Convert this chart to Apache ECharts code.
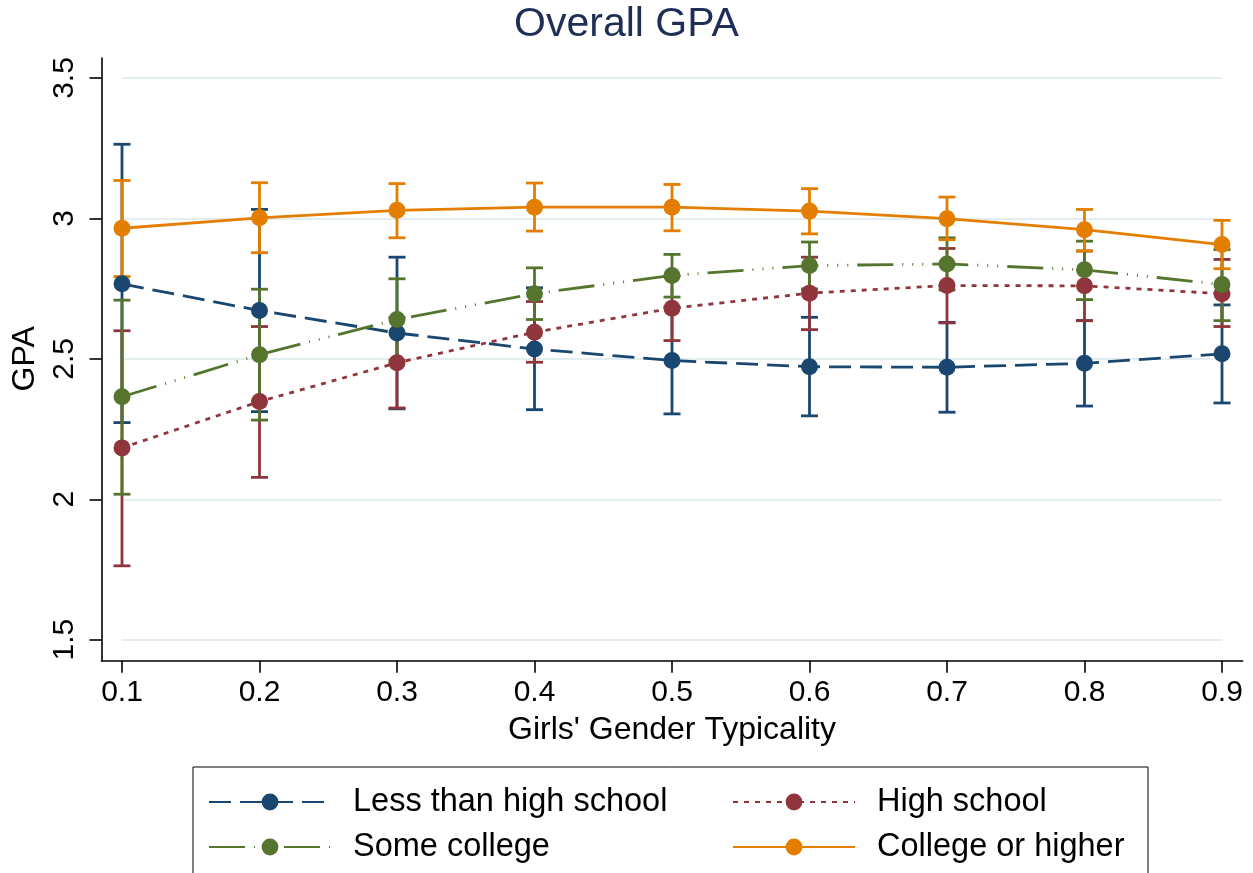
<!DOCTYPE html>
<html>
<head>
<meta charset="utf-8">
<title>Overall GPA</title>
<script src="https://cdn.jsdelivr.net/npm/echarts@6/dist/echarts.min.js"></script>
<style>
  html, body { margin: 0; padding: 0; background: #ffffff; }
  #chart { width: 1253px; height: 873px; }
</style>
</head>
<body>
<div id="chart"></div>
<script>
// Girls' gender typicality (x) and predicted GPA with 95% confidence limits by parental education
const typicality = [0.1, 0.2, 0.3, 0.4, 0.5, 0.6, 0.7, 0.8, 0.9];

const groupNames = ['Less than high school', 'High school', 'Some college', 'College or higher'];

const lessHsMean  = [2.767, 2.672, 2.592, 2.535, 2.494, 2.472, 2.470, 2.484, 2.518];
const lessHsLower = [2.273, 2.312, 2.322, 2.319, 2.304, 2.297, 2.310, 2.332, 2.343];
const lessHsUpper = [3.264, 3.032, 2.862, 2.753, 2.684, 2.648, 2.630, 2.636, 2.692];

const hsMean  = [2.183, 2.348, 2.486, 2.595, 2.680, 2.734, 2.761, 2.760, 2.732];
const hsLower = [1.763, 2.078, 2.325, 2.488, 2.565, 2.604, 2.628, 2.636, 2.615];
const hsUpper = [2.600, 2.615, 2.647, 2.704, 2.795, 2.862, 2.893, 2.884, 2.854];

const someColMean  = [2.365, 2.515, 2.640, 2.732, 2.797, 2.832, 2.838, 2.817, 2.765];
const someColLower = [2.018, 2.282, 2.495, 2.640, 2.720, 2.749, 2.745, 2.711, 2.636];
const someColUpper = [2.709, 2.748, 2.785, 2.824, 2.872, 2.916, 2.931, 2.919, 2.889];

const collegeMean  = [2.965, 3.002, 3.029, 3.040, 3.040, 3.026, 2.999, 2.960, 2.907];
const collegeLower = [2.793, 2.878, 2.931, 2.955, 2.956, 2.945, 2.924, 2.884, 2.821];
const collegeUpper = [3.135, 3.127, 3.124, 3.126, 3.121, 3.106, 3.076, 3.032, 2.993];

const yAxisMin = 1.5, yAxisMax = 3.5, yAxisStep = 0.5;
const xAxisMin = 0.1, xAxisMax = 0.9, xAxisStep = 0.1;

const groups = [
  { name: groupNames[0], mean: lessHsMean,  lower: lessHsLower,  upper: lessHsUpper,
    color: '#1a476f', dash: [22, 9] },
  { name: groupNames[1], mean: hsMean,      lower: hsLower,      upper: hsUpper,
    color: '#90353b', dash: [5, 6] },
  { name: groupNames[2], mean: someColMean, lower: someColLower, upper: someColUpper,
    color: '#55752f', dash: [36, 9, 1, 9, 1, 9, 1, 9] },
  { name: groupNames[3], mean: collegeMean, lower: collegeLower, upper: collegeUpper,
    color: '#e37e00', dash: 'solid' }
];

const FONT = '"Liberation Sans", Arial, Helvetica, sans-serif';
const LINE_W = 2.8;

// capped vertical interval: [x, lower, upper]
function renderCapBar(params, api) {
  const x = api.value(0);
  const lo = api.coord([x, api.value(1)]);
  const hi = api.coord([x, api.value(2)]);
  const half = 8.5;
  const style = { stroke: api.visual('color'), lineWidth: LINE_W, fill: null };
  return {
    type: 'group',
    children: [
      { type: 'line', shape: { x1: lo[0], y1: lo[1], x2: hi[0], y2: hi[1] }, style: style },
      { type: 'line', shape: { x1: lo[0] - half, y1: lo[1], x2: lo[0] + half, y2: lo[1] }, style: style },
      { type: 'line', shape: { x1: hi[0] - half, y1: hi[1], x2: hi[0] + half, y2: hi[1] }, style: style }
    ]
  };
}

const capSeries = groups.map(g => ({
  name: g.name + ' (95% CI)',
  type: 'custom',
  xAxisIndex: 0,
  yAxisIndex: 0,
  z: 2,
  itemStyle: { color: g.color },
  renderItem: renderCapBar,
  encode: { x: 0, y: [1, 2] },
  data: typicality.map((x, i) => [x, g.lower[i], g.upper[i]])
}));

const lineSeries = groups.map(g => ({
  name: g.name,
  type: 'line',
  xAxisIndex: 0,
  yAxisIndex: 0,
  z: 3,
  symbol: 'circle',
  symbolSize: 17,
  showAllSymbol: true,
  itemStyle: { color: g.color },
  lineStyle: { color: g.color, width: LINE_W, type: g.dash },
  emphasis: { disabled: true },
  data: typicality.map((x, i) => [x, g.mean[i]])
}));

const axisInk = { color: '#000000', width: 1.6 };
const colWidths = [367, 256, 367, 256];

const option = {
  animation: false,
  backgroundColor: '#ffffff',
  title: {
    text: 'Overall GPA',
    left: 'center',
    top: 4,
    padding: 0,
    textStyle: { fontFamily: FONT, fontSize: 41, fontWeight: 'normal', color: '#1e2e57' }
  },
  grid: [
    // plotting region (ticks at its edges)
    { left: 122, right: 31, top: 78, bottom: 233.3 },
    // outer frame carrying the axis lines
    { left: 101.5, right: 10.3, top: 58, bottom: 212.3 }
  ],
  xAxis: [
    {
      type: 'value', gridIndex: 0,
      min: xAxisMin, max: xAxisMax, interval: xAxisStep,
      offset: 21,
      name: "Girls' Gender Typicality",
      nameLocation: 'middle',
      nameGap: 53,
      nameTextStyle: { fontFamily: FONT, fontSize: 32, color: '#000000' },
      axisLine: { show: false },
      axisTick: { show: true, length: 12, lineStyle: axisInk },
      axisLabel: {
        margin: 17, fontFamily: FONT, fontSize: 30, color: '#000000',
        formatter: v => v.toFixed(1)
      },
      splitLine: { show: false }
    },
    {
      type: 'value', gridIndex: 1, min: 0, max: 1,
      axisLine: { show: true, onZero: false, lineStyle: axisInk },
      axisTick: { show: false }, axisLabel: { show: false }, splitLine: { show: false }
    }
  ],
  yAxis: [
    {
      type: 'value', gridIndex: 0,
      min: yAxisMin, max: yAxisMax, interval: yAxisStep,
      offset: 20.5,
      name: 'GPA',
      nameLocation: 'middle',
      nameRotate: 90,
      nameGap: 57,
      nameTextStyle: { fontFamily: FONT, fontSize: 32, color: '#000000' },
      axisLine: { show: false },
      axisTick: { show: true, length: 12, lineStyle: axisInk },
      axisLabel: {
        rotate: 90, margin: 22, fontFamily: FONT, fontSize: 30, color: '#000000',
        formatter: v => String(Math.round(v * 10) / 10)
      },
      splitLine: { show: true, lineStyle: { color: '#e4edf0', width: 2 } }
    },
    {
      type: 'value', gridIndex: 1, min: 0, max: 1,
      axisLine: { show: true, onZero: false, lineStyle: axisInk },
      axisTick: { show: false }, axisLabel: { show: false }, splitLine: { show: false }
    }
  ],
  legend: {
    left: 193,
    top: 767,
    width: 925,
    padding: [18.5, 15, 16, 15],
    borderColor: '#000000',
    borderWidth: 1,
    borderRadius: 0,
    backgroundColor: '#ffffff',
    itemWidth: 122,
    itemHeight: 21,
    itemGap: 12,
    selectedMode: false,
    textStyle: {
      fontFamily: FONT, fontSize: 32.5, lineHeight: 33, color: '#000000',
      padding: [0, 0, 0, 17]
    },
    data: groupNames.map((n, i) => ({ name: n, textStyle: { width: colWidths[i] } }))
  },
  series: capSeries.concat(lineSeries)
};

const chart = echarts.init(document.getElementById('chart'), null, { renderer: 'canvas' });
chart.setOption(option);
</script>
</body>
</html>
